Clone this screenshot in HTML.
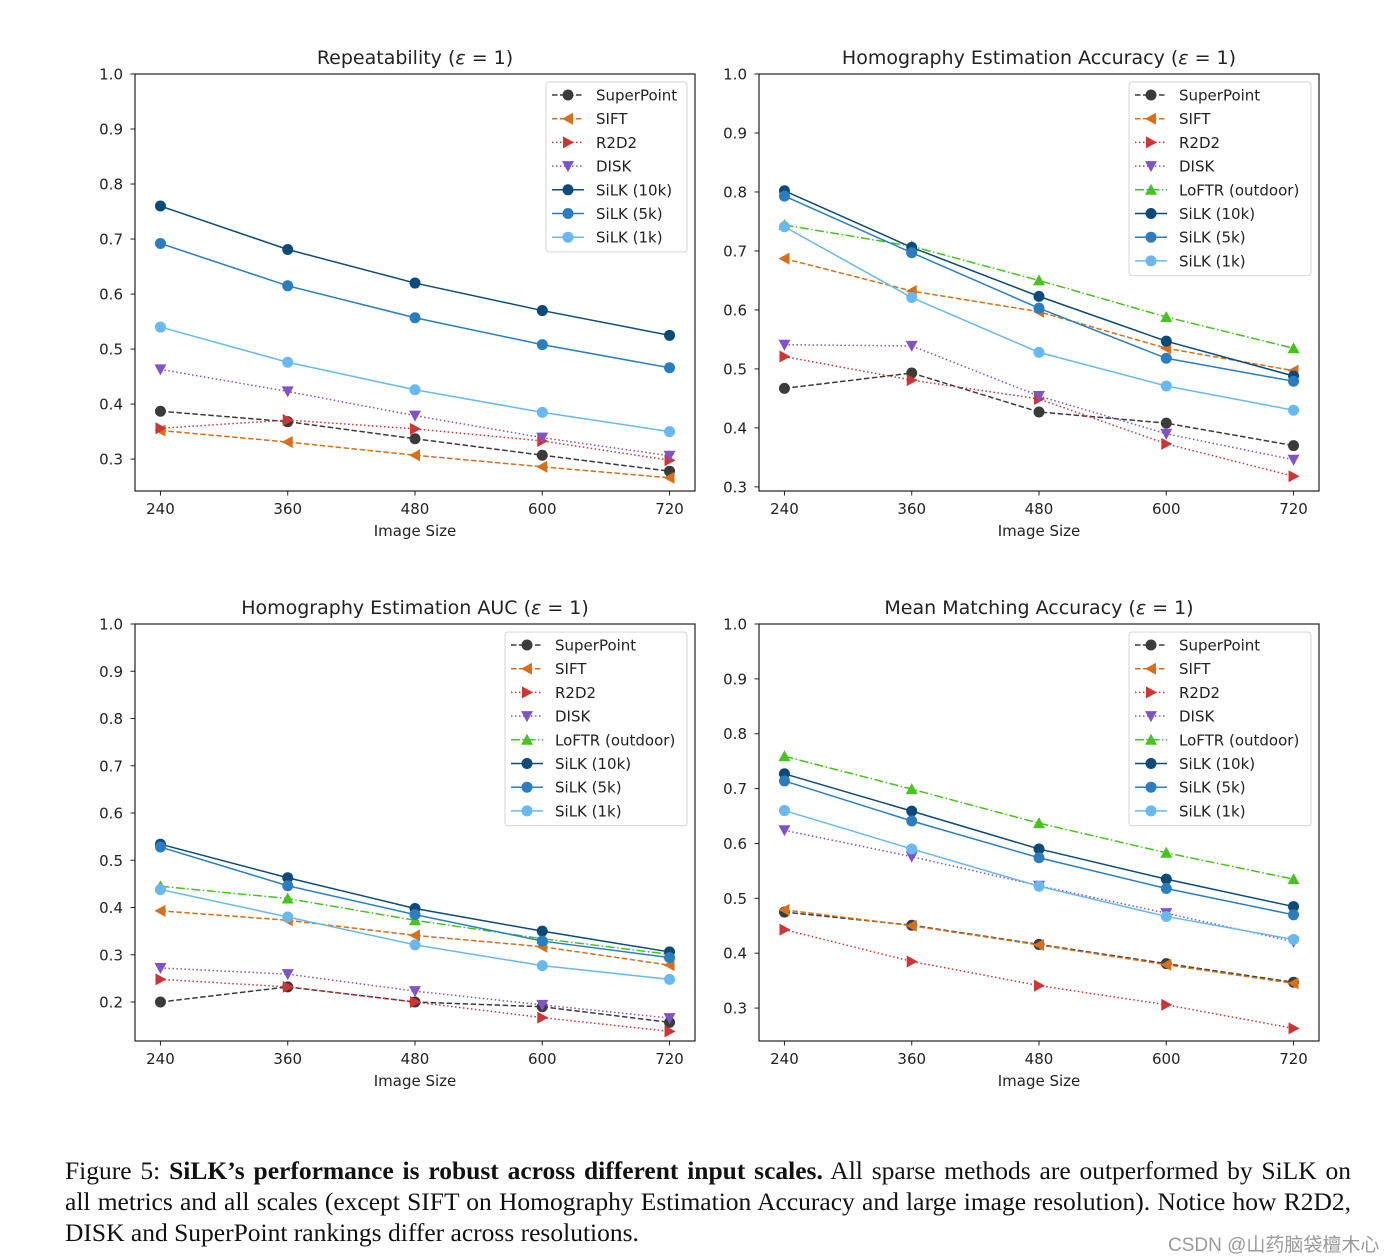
<!DOCTYPE html>
<html><head><meta charset="utf-8">
<style>
html,body{margin:0;padding:0;background:#fff;}
#wrap{position:relative;width:1394px;height:1259px;overflow:hidden;background:#fff;}
svg text{font-family:"DejaVu Sans","Liberation Sans",sans-serif;fill:#222;}
.cap{position:absolute;left:65px;width:1286px;font-family:"Liberation Serif",serif;font-size:25.5px;color:#111;white-space:nowrap;line-height:31px;}
.j{text-align:justify;text-align-last:justify;white-space:normal;}
#wm{position:absolute;left:1168px;top:1230px;font-family:"Liberation Sans","Noto Sans CJK SC",sans-serif;font-size:19px;color:#9a9a9a;white-space:nowrap;}
</style></head>
<body>
<div id="wrap">
<svg id="fig" width="1394" height="1259"></svg>
<div class="cap j" style="top:1155px">Figure 5: <b>SiLK’s performance is robust across different input scales.</b> All sparse methods are outperformed by SiLK on</div>
<div class="cap j" style="top:1186px">all metrics and all scales (except SIFT on Homography Estimation Accuracy and large image resolution). Notice how R2D2,</div>
<div class="cap" style="top:1217px">DISK and SuperPoint rankings differ across resolutions.</div>
<div id="wm">CSDN @山药脑袋檀木心</div>
</div>
<script>
const xCategories = [240, 360, 480, 600, 720];
const seriesNames = ["SuperPoint","SIFT","R2D2","DISK","LoFTR (outdoor)","SiLK (10k)","SiLK (5k)","SiLK (1k)"];

// Repeatability
const repSuperPoint = [0.387,0.368,0.337,0.307,0.278];
const repSIFT       = [0.352,0.331,0.307,0.286,0.266];
const repR2D2       = [0.356,0.371,0.355,0.333,0.298];
const repDISK       = [0.463,0.423,0.379,0.339,0.306];
const repSiLK10k    = [0.760,0.681,0.620,0.570,0.525];
const repSiLK5k     = [0.692,0.615,0.557,0.508,0.466];
const repSiLK1k     = [0.540,0.476,0.426,0.385,0.350];

// Homography accuracy
const accSuperPoint = [0.467,0.493,0.427,0.408,0.370];
const accSIFT       = [0.687,0.632,0.597,0.535,0.497];
const accR2D2       = [0.521,0.481,0.449,0.373,0.318];
const accDISK       = [0.541,0.539,0.454,0.390,0.346];
const accLoFTR      = [0.744,0.708,0.650,0.588,0.535];
const accSiLK10k    = [0.802,0.706,0.623,0.547,0.488];
const accSiLK5k     = [0.793,0.697,0.603,0.518,0.479];
const accSiLK1k     = [0.741,0.621,0.528,0.471,0.430];

// Homography AUC
const aucSuperPoint = [0.200,0.232,0.200,0.190,0.157];
const aucSIFT       = [0.393,0.373,0.341,0.317,0.278];
const aucR2D2       = [0.248,0.232,0.200,0.167,0.138];
const aucDISK       = [0.272,0.259,0.223,0.194,0.166];
const aucLoFTR      = [0.445,0.419,0.373,0.334,0.301];
const aucSiLK10k    = [0.534,0.463,0.398,0.350,0.306];
const aucSiLK5k     = [0.528,0.446,0.385,0.329,0.294];
const aucSiLK1k     = [0.438,0.380,0.321,0.277,0.248];

// Mean matching accuracy
const mmaSuperPoint = [0.475,0.451,0.416,0.381,0.347];
const mmaSIFT       = [0.479,0.450,0.415,0.379,0.345];
const mmaR2D2       = [0.443,0.385,0.341,0.306,0.263];
const mmaDISK       = [0.624,0.576,0.523,0.473,0.421];
const mmaLoFTR      = [0.759,0.699,0.637,0.583,0.535];
const mmaSiLK10k    = [0.727,0.659,0.590,0.535,0.485];
const mmaSiLK5k     = [0.714,0.641,0.574,0.518,0.470];
const mmaSiLK1k     = [0.660,0.590,0.522,0.467,0.425];

const yTicksA = [0.3,0.4,0.5,0.6,0.7,0.8,0.9,1.0];
const yTicksB = [0.2,0.3,0.4,0.5,0.6,0.7,0.8,0.9,1.0];

const styles = {
 "SuperPoint":{c:"#3b3b3b",dash:"5.5,2.5",m:"o"},
 "SIFT":{c:"#d6701a",dash:"5.5,2.5",m:"<"},
 "R2D2":{c:"#d03434",dash:"1.5,2.5",m:">"},
 "DISK":{c:"#7d55c8",dash:"1.5,2.5",m:"v"},
 "LoFTR (outdoor)":{c:"#46c41c",dash:"9,2.5,1.5,2.5",m:"^"},
 "SiLK (10k)":{c:"#0b4a7a",dash:"",m:"o"},
 "SiLK (5k)":{c:"#2a7ebf",dash:"",m:"o"},
 "SiLK (1k)":{c:"#68b9f1",dash:"",m:"o"}
};

const NS="http://www.w3.org/2000/svg";
const svg=document.getElementById('fig');
function mk(tag,attrs,parent){const e=document.createElementNS(NS,tag);for(const k in attrs)e.setAttribute(k,attrs[k]);(parent||svg).appendChild(e);return e;}

function marker(g,type,x,y,c){
 let e;const r=5.5;
 if(type==="o"){e=mk('circle',{cx:x,cy:y,r:r,fill:c},g);}
 else{
  let p;
  if(type==="<")p=[[x-6,y],[x+5,y-6],[x+5,y+6]];
  if(type===">")p=[[x+6,y],[x-5,y-6],[x-5,y+6]];
  if(type==="v")p=[[x,y+6],[x-6,y-5],[x+6,y-5]];
  if(type==="^")p=[[x,y-6],[x-6,y+5],[x+6,y+5]];
  e=mk('polygon',{points:p.map(q=>q.join(',')).join(' '),fill:c},g);
 }
 return e;
}

function chart(cfg){
 const {x0,x1,y0,y1,ymin,ymax,title,ticks,series,legend,id}=cfg;
 const g=mk('g',{});
 
 
 const xs=v=>x0+(v-216)/(744-216)*(x1-x0);
 const ys=v=>y1-(v-ymin)/(ymax-ymin)*(y1-y0);
 const t=mk('text',{x:(x0+x1)/2,y:y0-10,'text-anchor':'middle','font-size':19},g);
 t.innerHTML=title;
 
 
 ticks.forEach(v=>{
  const y=ys(v);
  mk('line',{x1:x0-4.5,x2:x0,y1:y,y2:y,stroke:'#222','stroke-width':1},g);
  const tl=mk('text',{x:x0-12,y:y+5.5,'text-anchor':'end','font-size':15},g);
  tl.textContent=v.toFixed(1);
  
  
 });
 xCategories.forEach(v=>{
  const x=xs(v);
  mk('line',{x1:x,x2:x,y1:y1,y2:y1+4.5,stroke:'#222','stroke-width':1},g);
  const tl=mk('text',{x:x,y:y1+23,'text-anchor':'middle','font-size':15},g);
  tl.textContent=v;
  
  
 });
 const xl=mk('text',{x:(x0+x1)/2,y:y1+45,'text-anchor':'middle','font-size':15},g);
 xl.textContent='Image Size';
 
 
 series.forEach(([name,vals])=>{
  const s=styles[name];
  const sg=mk('g',{},g);
  
  
  const pts=vals.map((v,i)=>xs(xCategories[i])+','+ys(v)).join(' ');
  const pl=mk('polyline',{points:pts,fill:'none',stroke:s.c,'stroke-width':1.5},sg);
  if(s.dash)pl.setAttribute('stroke-dasharray',s.dash);
  vals.forEach((v,i)=>{
   const m=marker(sg,s.m,xs(xCategories[i]),ys(v),s.c);
   
   
  });
 });
 mk('rect',{x:x0,y:y0,width:x1-x0,height:y1-y0,fill:'none',stroke:'#222','stroke-width':1.2},g);
 const lg=mk('g',{},g);
 
 
 const n=series.length;
 mk('rect',{x:legend.x,y:legend.y,width:legend.w,height:n*23.7+4,rx:3,fill:'#fff','fill-opacity':0.85,stroke:'#d6d6d6','stroke-width':1},lg);
 series.forEach(([name],i)=>{
  const s=styles[name];
  const cy=legend.y+13+i*23.7;
  const lx=legend.x+6;
  const ln=mk('line',{x1:lx,x2:lx+32,y1:cy,y2:cy,stroke:s.c,'stroke-width':1.5},lg);
  if(s.dash)ln.setAttribute('stroke-dasharray',s.dash);
  marker(lg,s.m,lx+16,cy,s.c);
  const tx=mk('text',{x:legend.x+50,y:cy+5.5,'font-size':15},lg);
  tx.textContent=name;
  
  
 });
}

const eps='(<tspan font-style="italic">ε</tspan> = 1)';
chart({id:'repeatability',x0:135,x1:695,y0:74,y1:491,ymin:0.242,ymax:1.0,ticks:yTicksA,
 title:'Repeatability '+eps,legend:{x:546,y:82,w:141},
 series:[["SuperPoint",repSuperPoint],["SIFT",repSIFT],["R2D2",repR2D2],["DISK",repDISK],["SiLK (10k)",repSiLK10k],["SiLK (5k)",repSiLK5k],["SiLK (1k)",repSiLK1k]]});
chart({id:'homography-accuracy',x0:759,x1:1319,y0:74,y1:491,ymin:0.293,ymax:1.0,ticks:yTicksA,
 title:'Homography Estimation Accuracy '+eps,legend:{x:1129,y:82,w:182},
 series:[["SuperPoint",accSuperPoint],["SIFT",accSIFT],["R2D2",accR2D2],["DISK",accDISK],["LoFTR (outdoor)",accLoFTR],["SiLK (10k)",accSiLK10k],["SiLK (5k)",accSiLK5k],["SiLK (1k)",accSiLK1k]]});
chart({id:'homography-auc',x0:135,x1:695,y0:624,y1:1041,ymin:0.1175,ymax:1.0,ticks:yTicksB,
 title:'Homography Estimation AUC '+eps,legend:{x:505,y:632,w:182},
 series:[["SuperPoint",aucSuperPoint],["SIFT",aucSIFT],["R2D2",aucR2D2],["DISK",aucDISK],["LoFTR (outdoor)",aucLoFTR],["SiLK (10k)",aucSiLK10k],["SiLK (5k)",aucSiLK5k],["SiLK (1k)",aucSiLK1k]]});
chart({id:'mean-matching-accuracy',x0:759,x1:1319,y0:624,y1:1041,ymin:0.24,ymax:1.0,ticks:yTicksA,
 title:'Mean Matching Accuracy '+eps,legend:{x:1129,y:632,w:182},
 series:[["SuperPoint",mmaSuperPoint],["SIFT",mmaSIFT],["R2D2",mmaR2D2],["DISK",mmaDISK],["LoFTR (outdoor)",mmaLoFTR],["SiLK (10k)",mmaSiLK10k],["SiLK (5k)",mmaSiLK5k],["SiLK (1k)",mmaSiLK1k]]});
</script>
</body></html>
